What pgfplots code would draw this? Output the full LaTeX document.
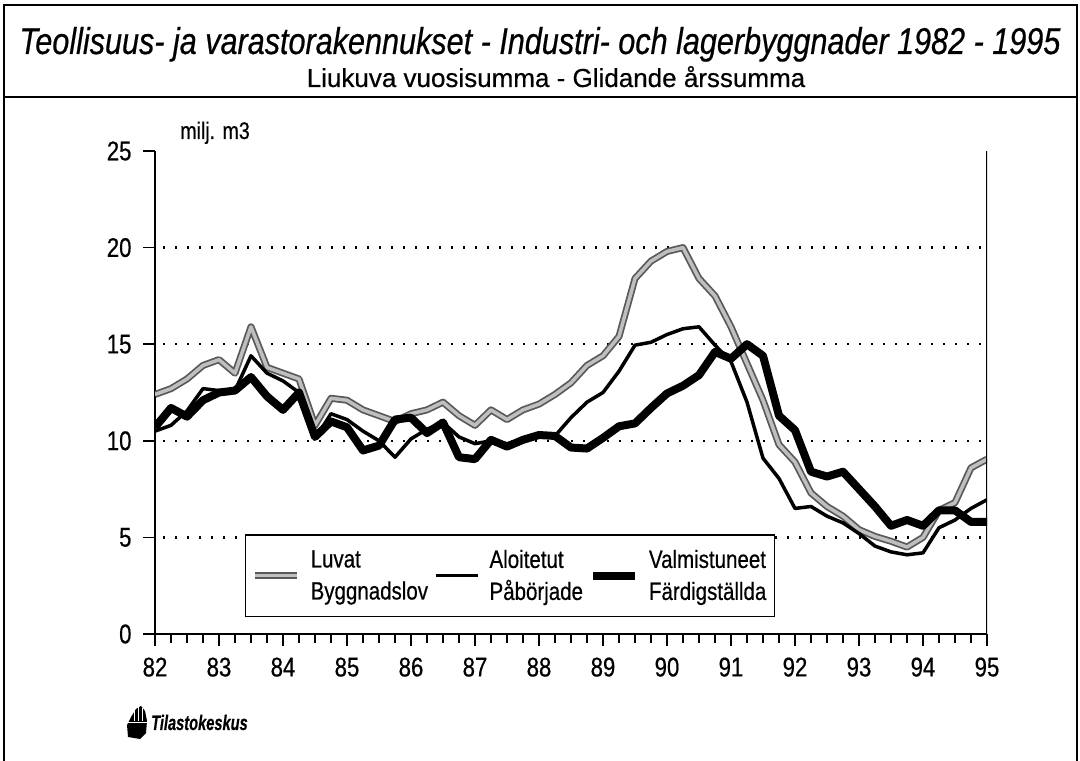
\documentclass[border=0pt]{standalone}
\usepackage{fontspec}
\setmainfont{Liberation Sans}[FakeStretch=0.82, FakeBold=0.5]
\newfontfamily\widefont{Liberation Sans}[FakeBold=0.5]
\usepackage{pgfplots}
\pgfplotsset{compat=1.18}
\usepackage{pgfplotstable}

\pgfplotstableread{
x L A V
82.00 12.4 10.5 10.7
82.25 12.7 10.8 11.7
82.50 13.2 11.55 11.25
82.75 13.9 12.7 12.1
83.00 14.2 12.6 12.5
83.25 13.5 12.6 12.6
83.50 15.9 14.4 13.3
83.75 13.8 13.5 12.3
84.00 13.5 13.1 11.6
84.25 13.2 12.5 12.5
84.50 10.8 10.1 10.2
84.75 12.2 11.4 11.0
85.00 12.1 11.1 10.7
85.25 11.6 10.5 9.5
85.50 11.3 10.0 9.75
85.75 11.0 9.15 11.1
86.00 11.4 10.1 11.2
86.25 11.6 10.6 10.4
86.50 12.0 10.95 10.95
86.75 11.3 10.2 9.15
87.00 10.8 9.85 9.05
87.25 11.6 10.0 10.05
87.50 11.1 9.85 9.7
87.75 11.6 10.0 10.05
88.00 11.9 10.3 10.3
88.25 12.4 10.25 10.25
88.50 13.0 11.2 9.65
88.75 13.9 12.0 9.6
89.00 14.4 12.5 10.15
89.25 15.4 13.6 10.75
89.50 18.4 14.95 10.9
89.75 19.3 15.1 11.7
90.00 19.8 15.5 12.45
90.25 20.0 15.8 12.85
90.50 18.4 15.9 13.4
90.75 17.5 14.95 14.6
91.00 15.9 14.1 14.25
91.25 14.0 12.0 15.0
91.50 12.1 9.1 14.4
91.75 9.8 8.05 11.3
92.00 8.9 6.5 10.55
92.25 7.3 6.6 8.4
92.50 6.6 6.1 8.15
92.75 6.1 5.75 8.4
93.00 5.4 5.2 7.5
93.25 5.05 4.55 6.6
93.50 4.8 4.25 5.6
93.75 4.5 4.1 5.9
94.00 5.0 4.2 5.6
94.25 6.4 5.5 6.4
94.50 6.8 5.9 6.4
94.75 8.6 6.5 5.8
95.00 9.05 6.95 5.8
}\data

\begin{document}
\begin{tikzpicture}
\useasboundingbox (0pt,0pt) rectangle (1080pt,761pt);
% frame
\draw[line width=2pt] (4pt,0pt) -- (4pt,756pt) -- (1077pt,756pt) -- (1077pt,0pt);
\draw[line width=2pt] (4pt,664pt) -- (1077pt,664pt);
% titles
\node[anchor=base, inner sep=0pt, font=\fontsize{37.3}{40}\selectfont\itshape] at (540pt,707pt)
  {Teollisuus- ja varastorakennukset - Industri- och lagerbyggnader 1982 - 1995};
\node[anchor=base, inner sep=0pt, font=\widefont\fontsize{26}{30}\selectfont] at (556pt,674pt)
  {Liukuva vuosisumma - Glidande årssumma};
\node[anchor=base west, inner sep=0pt, font=\fontsize{24}{28}\selectfont] at (180pt,622pt) {milj. m3};
% logo
\fill[black] (128pt,24pt) -- (127pt,36pt) -- (131pt,44pt) -- (136pt,52pt) -- (141pt,55pt) -- (145pt,50pt) -- (147pt,40pt) -- (146pt,28pt) -- (140pt,22pt) -- cycle;
\draw[white, line width=1pt] (127pt,38pt) -- (148pt,38pt);
\draw[white, line width=0.8pt] (134pt,40pt) -- (134pt,54pt) (138pt,40pt) -- (138pt,55pt) (142pt,40pt) -- (142pt,53pt);
\node[anchor=base west, inner sep=0pt, font=\fontsize{21}{24}\selectfont\bfseries\itshape] at (151pt,31pt) {\scalebox{0.85}[1]{Tilastokeskus}};

\begin{axis}[
  at={(155pt,127pt)}, anchor=south west,
  scale only axis, width=832pt, height=483pt,
  xmin=82, xmax=95, ymin=0, ymax=25,
  axis x line*=bottom, axis y line*=left,
  axis line style={line width=2pt},
  xtick={82,...,95}, ytick={0,5,...,25},
  minor x tick num=3,
  tick align=outside,
  major tick length=12pt, minor tick length=9pt,
  tick style={line width=1.6pt, black},
  /pgf/number format/assume math mode=true,
  ticklabel style={font=\fontsize{27}{27}\selectfont},
  xticklabel style={yshift=-8pt},
  yticklabel style={xshift=-8pt},
  legend columns=3,
  legend style={at={(0.108,0.207)}, anchor=north west, draw=black, line width=1.6pt,
     cells={align=left, anchor=west}, font=\fontsize{25}{32}\selectfont,
     inner xsep=6pt, inner ysep=13pt,
     /tikz/every even column/.append style={column sep=4pt}},
  legend image code/.code={\draw[#1] (0pt,0pt) -- (42pt,0pt); \path (50pt,0pt);},
]
\foreach \g in {5,10,15,20}{
  \edef\tmp{\noexpand\draw[black, line width=2.4pt, dash pattern=on 2.4pt off 9.6pt, dash phase=-8pt] (axis cs:82,\g) -- (axis cs:95,\g);}
  \tmp
}
\addplot[gray!50, line width=3.5pt, line join=round, preaction={draw=black!65, line width=7pt, line join=round}] table[x=x,y=L] {\data};
\addlegendentry{Luvat\\Byggnadslov}
\addplot[black, line width=3.5pt, line join=round] table[x=x,y=A] {\data};
\addlegendentry{Aloitetut\\Påbörjade}
\addplot[black, line width=8pt, line join=round] table[x=x,y=V] {\data};
\addlegendentry{Valmistuneet\\Färdigställda}
\draw[line width=2pt] (rel axis cs:1,0) -- (rel axis cs:1,1);
\end{axis}
\end{tikzpicture}
\end{document}
